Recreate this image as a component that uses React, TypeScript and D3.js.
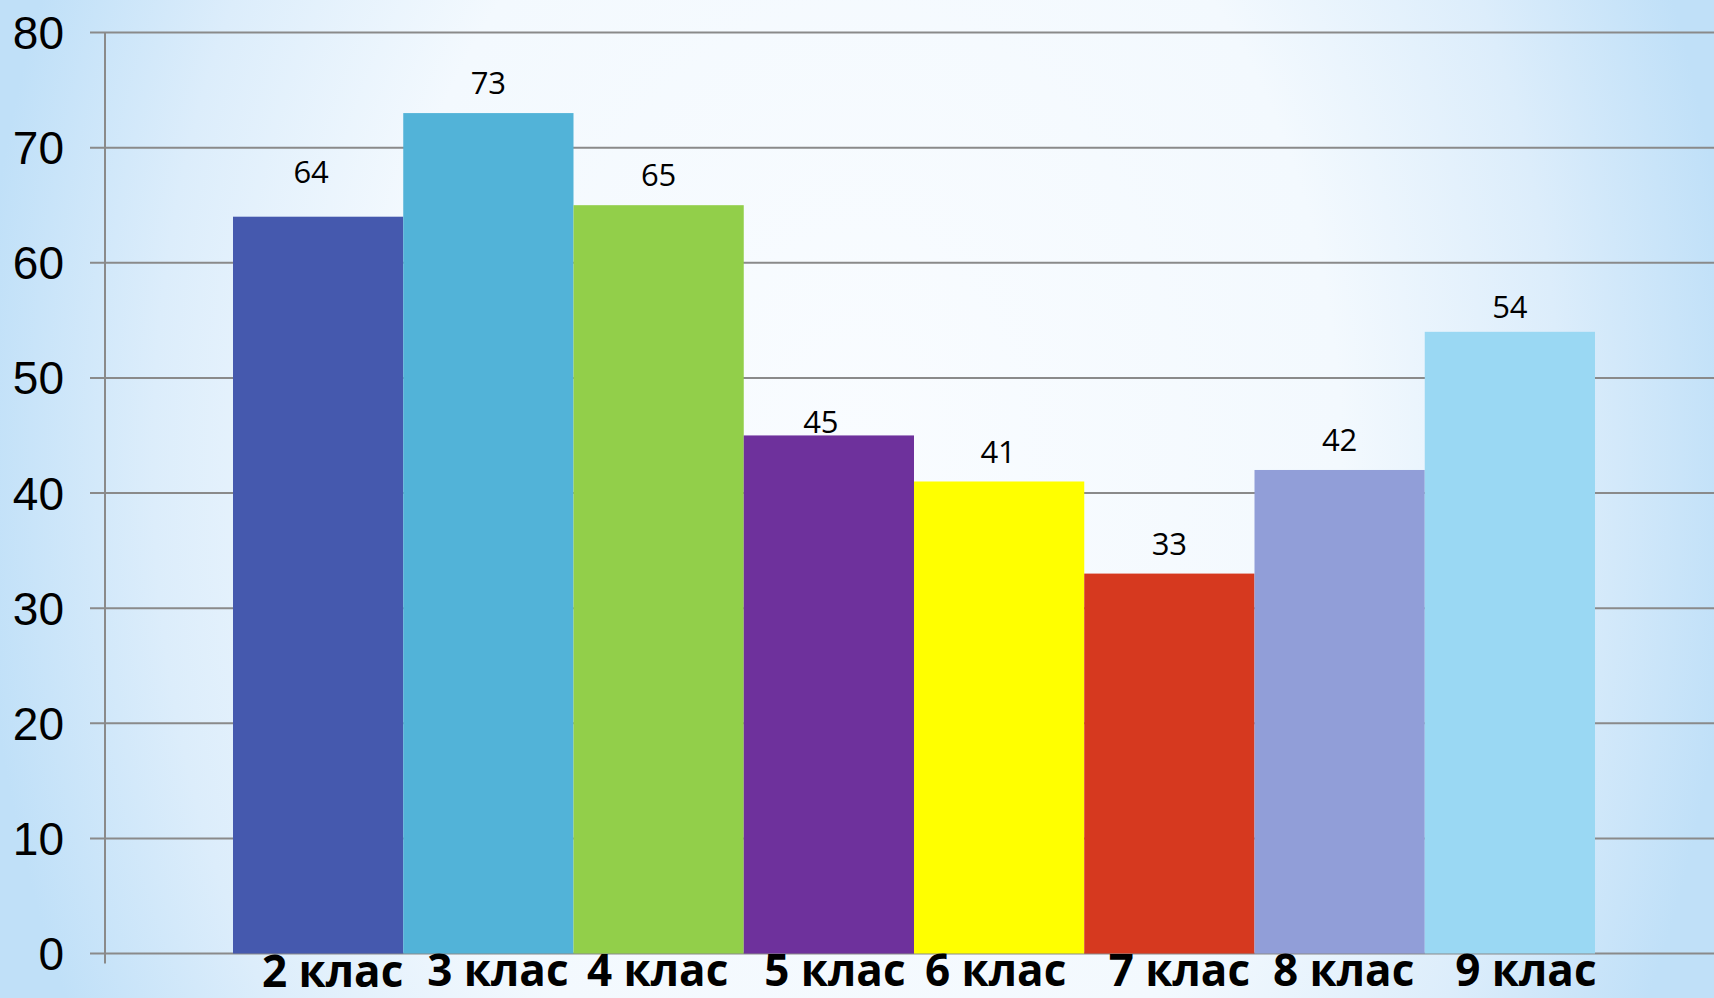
import React from "react";
import * as d3 from "d3";

// ---- data ----
const classes = ["2 клас", "3 клас", "4 клас", "5 клас", "6 клас", "7 клас", "8 клас", "9 клас"];
const values = [64, 73, 65, 45, 41, 33, 42, 54];
const barColors = ["#4559ae", "#52b3d8", "#92cf4a", "#6e319c", "#ffff00", "#d6391f", "#919ed8", "#9ad8f3"];
const yTicks = [0, 10, 20, 30, 40, 50, 60, 70, 80];

// manual label nudges (as in the original slide)
const valueLabelLift = [34, 19, 19.5, 2.5, 18.5, 19, 19, 13.7];
const valueLabelDx = [-7, 0, 0, -8, -1, 0, 0, 0];
const catLabelDx = [14.5, 9.5, -1, 6, -3.5, 10, 4, 16];
const catLabelDy = [1, 0, 0, 0, 0, 0, 0, 0];

const W = 1714;
const H = 998;

export default function App() {
  const x = d3.scaleBand<string>().domain(classes).range([233, 1595]).paddingInner(0).paddingOuter(0);
  const y = d3.scaleLinear().domain([0, 80]).range([953.5, 32.5]);
  const axisX = 105;
  const gridColor = "#8a8a8a";

  return (
    <svg
      width={W}
      height={H}
      viewBox={`0 0 ${W} ${H}`}
      style={{ position: "absolute", left: 0, top: 0, display: "block" }}
    >
      <defs>
        <radialGradient
          id="bg"
          gradientUnits="userSpaceOnUse"
          cx={857}
          cy={460}
          r={880}
          gradientTransform="translate(857,460) scale(1,1.4) translate(-857,-460)"
        >
          <stop offset="0" stopColor="#f9fcff" />
          <stop offset="0.55" stopColor="#f3f9fe" />
          <stop offset="0.8" stopColor="#dcedfb" />
          <stop offset="1" stopColor="#c0e0f8" />
        </radialGradient>
      </defs>
      <rect x={0} y={0} width={W} height={H} fill="url(#bg)" />

      {/* gridlines */}
      {yTicks.map((t) => (
        <line
          key={"g" + t}
          x1={90}
          x2={W}
          y1={y(t)}
          y2={y(t)}
          stroke={gridColor}
          strokeWidth={2}
        />
      ))}
      {/* y axis */}
      <line x1={axisX} x2={axisX} y1={y(80)} y2={y(0) + 10} stroke={gridColor} strokeWidth={2} />

      {/* y tick labels */}
      {yTicks.map((t) => (
        <text
          key={"t" + t}
          x={64}
          y={y(t)}
          dy="0.36em"
          textAnchor="end"
          fontFamily="'Liberation Sans', Arial, sans-serif"
          fontSize={46}
          fill="#000"
        >
          {t}
        </text>
      ))}

      {/* bars */}
      {classes.map((c, i) => (
        <rect
          key={"b" + c}
          x={x(c)}
          y={y(values[i])}
          width={x.bandwidth()}
          height={y(0) - y(values[i])}
          fill={barColors[i]}
        />
      ))}

      {/* value labels */}
      {classes.map((c, i) => (
        <text
          key={"v" + c}
          x={(x(c) as number) + x.bandwidth() / 2 + valueLabelDx[i]}
          y={y(values[i]) - valueLabelLift[i]}
          textAnchor="middle"
          fontFamily="'Open Sans', 'Noto Sans', sans-serif"
          fontSize={31}
          fill="#000"
        >
          {values[i]}
        </text>
      ))}

      {/* category labels */}
      {classes.map((c, i) => (
        <text
          key={"c" + c}
          x={(x(c) as number) + x.bandwidth() / 2 + catLabelDx[i]}
          y={y(0) + 32 + catLabelDy[i]}
          textAnchor="middle"
          fontFamily="'Open Sans', 'Noto Sans', sans-serif"
          fontWeight="bold"
          fontSize={44}
          fill="#000"
        >
          {c}
        </text>
      ))}
    </svg>
  );
}
